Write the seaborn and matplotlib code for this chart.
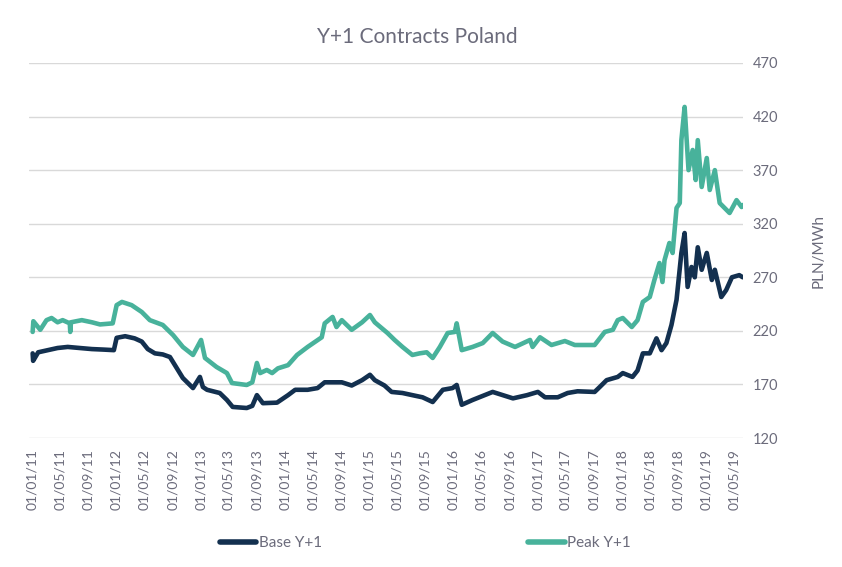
import matplotlib
matplotlib.use("Agg")
import matplotlib.pyplot as plt
import matplotlib.dates as mdates
import seaborn as sns
import pandas as pd

# values (PLN/MWh)
base_dates = [
    "2011-01-03", "2011-01-05", "2011-01-27", "2011-04-21", "2011-06-04", "2011-07-26",
    "2011-09-17", "2011-11-08", "2011-12-21", "2012-01-02", "2012-02-08", "2012-03-20",
    "2012-04-20", "2012-05-16", "2012-06-16", "2012-07-20", "2012-08-20", "2012-10-15",
    "2012-11-28", "2012-12-28", "2013-01-10", "2013-01-28", "2013-03-24", "2013-04-24",
    "2013-05-19", "2013-07-19", "2013-08-12", "2013-09-01", "2013-09-27", "2013-11-27",
    "2014-01-14", "2014-02-14", "2014-04-09", "2014-05-22", "2014-06-22", "2014-09-04",
    "2014-10-17", "2014-12-01", "2015-01-04", "2015-01-25", "2015-03-08", "2015-04-08",
    "2015-05-25", "2015-07-07", "2015-08-20", "2015-10-03", "2015-11-16", "2015-12-28",
    "2016-01-15", "2016-02-06", "2016-03-24", "2016-06-19", "2016-09-15", "2016-11-15",
    "2017-01-01", "2017-02-01", "2017-03-28", "2017-05-10", "2017-06-22", "2017-09-04",
    "2017-09-26", "2017-10-26", "2017-12-13", "2018-01-04", "2018-02-15", "2018-03-09",
    "2018-04-01", "2018-05-01", "2018-05-30", "2018-06-21", "2018-07-12", "2018-08-03",
    "2018-08-25", "2018-09-15", "2018-09-29", "2018-10-12", "2018-10-29", "2018-11-12",
    "2018-11-25", "2018-12-12", "2019-01-03", "2019-01-25", "2019-02-07", "2019-03-07",
    "2019-03-28", "2019-04-22", "2019-05-24", "2019-06-08",
]
base_vals = [
    199, 192, 200, 204, 205, 204,
    203, 202.5, 202, 213.5, 215, 213,
    210, 203, 199, 198, 195.6, 176,
    166.6, 177, 167.6, 165, 162, 155.5,
    149, 148, 150, 160, 152.5, 153,
    160, 165, 165, 166.6, 172, 172,
    169, 174, 179, 174, 169, 163,
    162, 160, 158, 153.6, 165, 166.6,
    169.5, 151, 155.5, 163, 157, 160,
    163, 158, 158, 162, 163.6, 163,
    167.6, 174, 177, 180.6, 177, 183,
    199, 199, 213, 202, 208.6, 225.5,
    249, 292.7, 311.3, 261, 279.6, 270,
    298, 277, 292.7, 267.5, 277, 251.6,
    258, 270, 272, 270,
]

peak_dates = [
    "2011-01-03", "2011-01-06", "2011-02-05", "2011-03-04", "2011-03-26", "2011-04-21",
    "2011-05-13", "2011-06-13", "2011-06-15", "2011-06-18", "2011-08-04", "2011-09-17",
    "2011-10-22", "2011-12-16", "2012-01-02", "2012-01-25", "2012-03-07", "2012-04-20",
    "2012-05-25", "2012-07-20", "2012-09-03", "2012-10-15", "2012-11-28", "2013-01-02",
    "2013-01-19", "2013-03-10", "2013-04-24", "2013-05-16", "2013-07-19", "2013-08-12",
    "2013-09-01", "2013-09-15", "2013-10-14", "2013-11-06", "2013-12-01", "2014-01-14",
    "2014-02-22", "2014-04-09", "2014-06-09", "2014-06-22", "2014-07-26", "2014-08-12",
    "2014-09-04", "2014-10-17", "2014-12-01", "2015-01-04", "2015-01-25", "2015-03-21",
    "2015-04-21", "2015-05-25", "2015-07-07", "2015-08-07", "2015-09-07", "2015-10-03",
    "2015-11-03", "2015-12-07", "2016-01-07", "2016-01-15", "2016-02-06", "2016-03-24",
    "2016-05-07", "2016-06-19", "2016-08-01", "2016-09-24", "2016-11-28", "2016-12-09",
    "2017-01-10", "2017-03-01", "2017-04-28", "2017-06-10", "2017-09-04", "2017-10-18",
    "2017-11-22", "2017-12-13", "2018-01-04", "2018-02-12", "2018-03-09", "2018-04-01",
    "2018-05-01", "2018-05-21", "2018-06-12", "2018-06-25", "2018-07-04", "2018-07-25",
    "2018-08-08", "2018-08-25", "2018-09-08", "2018-09-15", "2018-09-29", "2018-10-06",
    "2018-10-16", "2018-11-03", "2018-11-16", "2018-11-25", "2018-12-12", "2019-01-03",
    "2019-01-16", "2019-02-07", "2019-02-28", "2019-04-12", "2019-05-12", "2019-06-03",
    "2019-06-08",
]
peak_vals = [
    219, 229, 221, 230, 232, 228,
    230, 227, 219, 228, 230, 228,
    226, 227, 244, 247, 244, 237.6,
    230, 225.5, 216, 205, 197.5, 211.5,
    194.7, 186.3, 180.6, 171.3, 169.5, 172,
    190, 180.6, 183.5, 180.6, 185, 188,
    197.5, 205, 214, 227, 233, 223.6,
    230, 221, 228, 234.8, 228, 218,
    211.5, 205, 197.5, 199, 200, 194.7,
    205, 218, 219, 227, 202, 205,
    208.6, 218, 210, 205, 211.5, 205,
    214, 206.8, 210.5, 206.8, 206.8, 219,
    221, 230, 232, 223.6, 230, 247,
    251.6, 267.5, 283.3, 265.6, 286, 302,
    292.7, 334.7, 339.3, 398, 429, 404.7,
    370, 388.8, 360.8, 398, 354.3, 381.3,
    351.5, 370, 339.3, 330, 342, 335.6,
    337.5,
]

series_names = ["Base Y+1", "Peak Y+1"]
series_colors = ["#13304f", "#48b29b"]
y_ticks = [120, 170, 220, 270, 320, 370, 420, 470]

df = pd.concat([
    pd.DataFrame({"date": pd.to_datetime(base_dates), "value": base_vals, "series": series_names[0]}),
    pd.DataFrame({"date": pd.to_datetime(peak_dates), "value": peak_vals, "series": series_names[1]}),
])

sns.set_style("white")
plt.rcParams["font.family"] = ["Lato", "DejaVu Sans"]
txt = "#6b6b7b"

fig = plt.figure(figsize=(8.42, 5.67), dpi=100)
ax = fig.add_axes([0.0344, 0.2275, 0.848, 0.6614])

sns.lineplot(data=df, x="date", y="value", hue="series", palette=series_colors,
             hue_order=series_names, linewidth=3.3, ax=ax, legend=False)

ax.set_xlim(pd.Timestamp("2010-12-18"), pd.Timestamp("2019-06-09"))
ax.set_ylim(120, 470)
ax.set_yticks(y_ticks)
ax.yaxis.tick_right()
ax.yaxis.set_label_position("right")
ax.grid(axis="y", color="#d9d9d9", linewidth=1)
ax.grid(axis="x", visible=False)
for s in ax.spines.values():
    s.set_visible(False)

ax.xaxis.set_major_locator(mdates.MonthLocator(bymonth=[1, 5, 9], bymonthday=1))
ax.xaxis.set_major_formatter(mdates.DateFormatter("%d/%m/%y"))
ax.tick_params(axis="x", rotation=90, labelsize=10, colors=txt, length=0, pad=8)
ax.tick_params(axis="y", labelsize=10.5, colors=txt, length=0, pad=7)
ax.set_xlabel("")
ax.set_ylabel("PLN/MWh", color=txt, fontsize=11, labelpad=24)

fig.text(0.496, 0.935, "Y+1 Contracts Poland", ha="center", va="center",
         fontsize=15, color=txt)

handles = [plt.Line2D([], [], color=c, linewidth=4, solid_capstyle="round") for c in series_colors]
fig.legend(handles, series_names, loc="center", bbox_to_anchor=(0.505, 0.042), ncol=2,
           frameon=False, fontsize=11, labelcolor=txt, handlelength=2.4,
           handletextpad=0.15, columnspacing=13.5)

fig.savefig("out.png", dpi=100)
